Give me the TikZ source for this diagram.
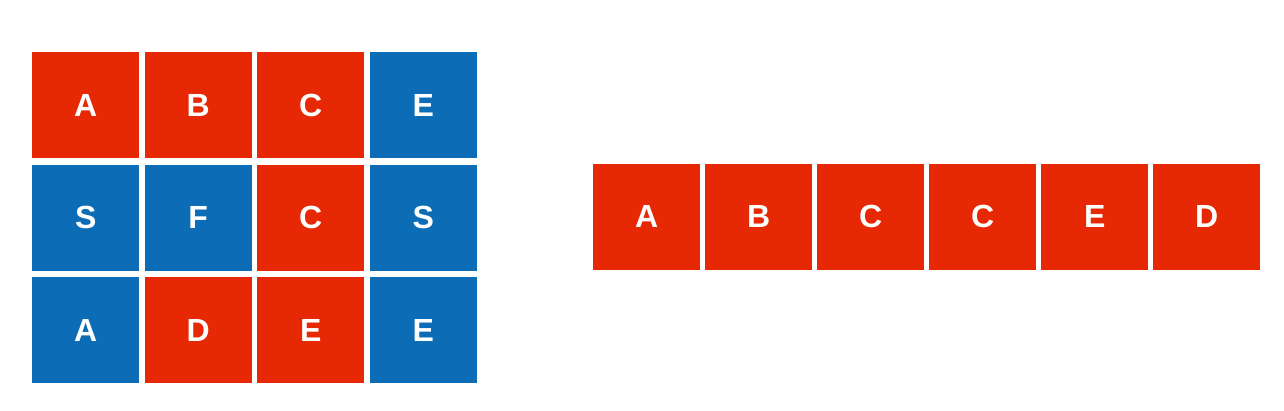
\documentclass[tikz,border=0pt]{standalone}
\usepackage{fontspec}
\setmainfont{Liberation Sans}
\definecolor{cred}{RGB}{230,40,4}
\definecolor{cblue}{RGB}{12,108,182}
\tikzset{
  cell/.style={minimum width=107pt, minimum height=106pt, inner sep=0pt, text=white,
    font=\fontsize{32}{32}\selectfont\bfseries, anchor=north west},
  rc/.style={cell, fill=cred},
  bc/.style={cell, fill=cblue},
}
\begin{document}
\begin{tikzpicture}[x=1pt,y=-1pt]
\useasboundingbox[fill=white] (0,0) rectangle (1284,410);
% left grid
\node[rc] (g11) at (32,52) {A};
\node[rc] (g12) at (144.5,52) {B};
\node[rc] (g13) at (257,52) {C};
\node[bc] (g14) at (369.5,52) {E};
\node[bc] (g21) at (32,164.5) {S};
\node[bc] (g22) at (144.5,164.5) {F};
\node[rc] (g23) at (257,164.5) {C};
\node[bc] (g24) at (369.5,164.5) {S};
\node[bc] (g31) at (32,277) {A};
\node[rc] (g32) at (144.5,277) {D};
\node[rc] (g33) at (257,277) {E};
\node[bc] (g34) at (369.5,277) {E};
% right row
\node[rc] (r1) at (593,163.5) {A};
\node[rc] (r2) at (705,163.5) {B};
\node[rc] (r3) at (817,163.5) {C};
\node[rc] (r4) at (929,163.5) {C};
\node[rc] (r5) at (1041,163.5) {E};
\node[rc] (r6) at (1153,163.5) {D};
\end{tikzpicture}
\end{document}
